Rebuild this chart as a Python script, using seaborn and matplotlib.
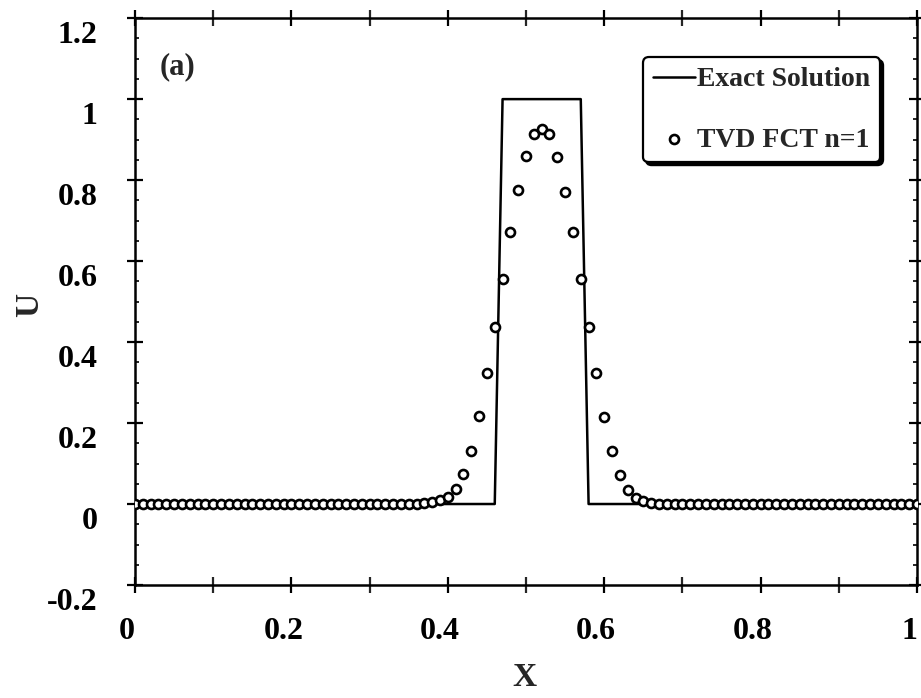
import matplotlib
matplotlib.use("Agg")
import matplotlib.pyplot as plt
import matplotlib.transforms as mtransforms
from matplotlib.ticker import MultipleLocator, FixedLocator, FixedFormatter
import seaborn as sns
import pandas as pd

# ---------------- data ----------------
exact_x = [0.0, 0.46, 0.47, 0.57, 0.58, 1.0]
exact_u = [0.0, 0.0, 1.0, 1.0, 0.0, 0.0]

fct_x = [0.00, 0.01, 0.02, 0.03, 0.04, 0.05, 0.06, 0.07, 0.08, 0.09,
         0.10, 0.11, 0.12, 0.13, 0.14, 0.15, 0.16, 0.17, 0.18, 0.19,
         0.20, 0.21, 0.22, 0.23, 0.24, 0.25, 0.26, 0.27, 0.28, 0.29,
         0.30, 0.31, 0.32, 0.33, 0.34, 0.35, 0.36, 0.37, 0.38, 0.39,
         0.40, 0.41, 0.42, 0.43, 0.44, 0.45, 0.46, 0.47, 0.48, 0.49,
         0.50, 0.51, 0.52, 0.53, 0.54, 0.55, 0.56, 0.57, 0.58, 0.59,
         0.60, 0.61, 0.62, 0.63, 0.64, 0.65, 0.66, 0.67, 0.68, 0.69,
         0.70, 0.71, 0.72, 0.73, 0.74, 0.75, 0.76, 0.77, 0.78, 0.79,
         0.80, 0.81, 0.82, 0.83, 0.84, 0.85, 0.86, 0.87, 0.88, 0.89,
         0.90, 0.91, 0.92, 0.93, 0.94, 0.95, 0.96, 0.97, 0.98, 0.99,
         1.00]
fct_u = [0.0, 0.0, 0.0, 0.0, 0.0, 0.0, 0.0, 0.0, 0.0, 0.0,
         0.0, 0.0, 0.0, 0.0, 0.0, 0.0, 0.0, 0.0, 0.0, 0.0,
         0.0, 0.0, 0.0, 0.0, 0.0, 0.0, 0.0, 0.0, 0.0, 0.0,
         0.0, 0.0, 0.0, 0.0, 0.0, 0.0, 0.001, 0.003, 0.006, 0.010,
         0.018, 0.036, 0.073, 0.131, 0.217, 0.323, 0.436, 0.555, 0.672, 0.775,
         0.859, 0.915, 0.925, 0.913, 0.856, 0.771, 0.671, 0.555, 0.436, 0.323,
         0.216, 0.130, 0.072, 0.035, 0.015, 0.007, 0.003, 0.001, 0.0, 0.0,
         0.0, 0.0, 0.0, 0.0, 0.0, 0.0, 0.0, 0.0, 0.0, 0.0,
         0.0, 0.0, 0.0, 0.0, 0.0, 0.0, 0.0, 0.0, 0.0, 0.0,
         0.0, 0.0, 0.0, 0.0, 0.0, 0.0, 0.0, 0.0, 0.0, 0.0,
         0.0]

xtick_vals = [0.0, 0.2, 0.4, 0.6, 0.8, 1.0]
xtick_labels = ["0", "0.2", "0.4", "0.6", "0.8", "1"]
ytick_vals = [-0.2, 0.0, 0.2, 0.4, 0.6, 0.8, 1.0, 1.2]
ytick_labels = ["-0.2", "0", "0.2", "0.4", "0.6", "0.8", "1", "1.2"]

series_labels = ["Exact Solution", "TVD FCT n=1"]
panel_label = "(a)"

# ---------------- style ----------------
sns.set_style("ticks")
plt.rcParams["font.family"] = ["Liberation Serif", "DejaVu Serif"]
plt.rcParams["font.weight"] = "bold"

fig = plt.figure(figsize=(9.21, 6.98), dpi=100)
ax = fig.add_axes([0.1466, 0.1619, 0.9957 - 0.1466, 0.974 - 0.1619])

exact_df = pd.DataFrame({"x": exact_x, "u": exact_u})
fct_df = pd.DataFrame({"x": fct_x, "u": fct_u})

sns.lineplot(data=exact_df, x="x", y="u", ax=ax, color="black", linewidth=1.8,
             sort=False, estimator=None, label=series_labels[0], zorder=2)
sns.scatterplot(data=fct_df, x="x", y="u", ax=ax, marker="o", s=42,
                facecolor="white", edgecolor="black", linewidth=1.9,
                label=series_labels[1], zorder=3)

ax.set_xlim(0, 1)
ax.set_ylim(-0.2, 1.2)

ax.xaxis.set_major_locator(FixedLocator(xtick_vals))
ax.xaxis.set_major_formatter(FixedFormatter(xtick_labels))
ax.xaxis.set_minor_locator(MultipleLocator(0.1))
ax.yaxis.set_major_locator(FixedLocator(ytick_vals))
ax.yaxis.set_major_formatter(FixedFormatter(ytick_labels))
ax.yaxis.set_minor_locator(MultipleLocator(0.05))

for s in ax.spines.values():
    s.set_linewidth(1.8)
    s.set_color("black")

ax.tick_params(axis="both", which="major", direction="inout", length=12,
               width=1.6, top=True, right=True, labelsize=23, pad=17,
               colors="black")
ax.tick_params(axis="x", which="minor", direction="inout", length=12,
               width=1.6, top=True, bottom=True)
ax.tick_params(axis="y", which="minor", direction="in", length=3,
               width=1.4, left=True, right=True)
ax.tick_params(axis="y", which="major", pad=21)

ax.set_xlabel("X", fontsize=24, fontweight="bold")
ax.set_ylabel("U", fontsize=24, fontweight="bold")
ax.xaxis.set_label_coords((524 - 135) / 782, -(678 - 585) / 567)
ax.yaxis.set_label_coords(-(135 - 30) / 782, (585 - 305) / 567)
ax.xaxis.label.set_va("center")
ax.yaxis.label.set_va("center")

# shift tick labels like in the printed figure
ydown = mtransforms.ScaledTranslation(0, -14 / 100, fig.dpi_scale_trans)
for t in ax.yaxis.get_major_ticks():
    t.label1.set_transform(t.label1.get_transform() + ydown)
xleft = mtransforms.ScaledTranslation(-8 / 100, 0, fig.dpi_scale_trans)
for t in ax.xaxis.get_major_ticks():
    t.label1.set_transform(t.label1.get_transform() + xleft)

ax.text(0.054, 0.914, panel_label, transform=ax.transAxes, fontsize=22,
        fontweight="bold", ha="center", va="center")

leg = ax.legend(loc="upper right", bbox_to_anchor=(0.953, 0.931),
                borderaxespad=0, frameon=True, fancybox=True,
                shadow={"color": "black", "alpha": 1.0},
                prop={"family": "Liberation Serif", "weight": "bold", "size": 20},
                handlelength=1.5, handletextpad=0.1, labelspacing=1.25,
                borderpad=0.35, markerscale=1.0)
frame = leg.get_frame()
frame.set_edgecolor("black")
frame.set_linewidth(1.6)
frame.set_alpha(1.0)
frame.set_facecolor("white")

fig.savefig("out.png", dpi=100)
